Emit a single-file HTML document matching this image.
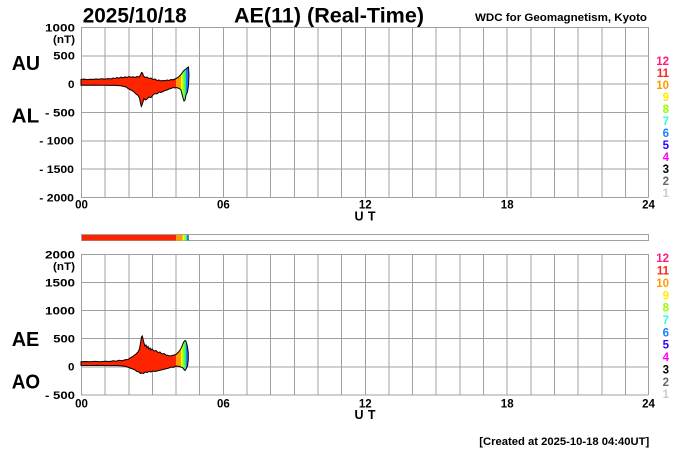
<!DOCTYPE html>
<html><head><meta charset="utf-8"><style>
html,body{margin:0;padding:0;background:#fff;}
svg{display:block;}
text{font-family:"Liberation Sans",Arial,sans-serif;font-weight:bold;}
</style></head><body>
<svg width="700" height="450" viewBox="0 0 700 450" xmlns="http://www.w3.org/2000/svg">
<rect width="700" height="450" fill="#fff"/>
<defs>
<clipPath id="ctop"><polygon id="ptop" points="81,79.5 84,79 87,79.6 90,79.2 93,79.4 96,79 99,79.3 102,78.8 105,79.1 108,78.6 111,78.9 113,78 115,78.5 117,77.5 119,78.2 121,77 123,77.8 125,76.8 127,77.5 129,76.5 131,77.2 133,76.8 135,77.5 137,76.5 139,77 140.5,75 141.5,72.5 142.5,73 143.5,76 145,77.5 147,77 149,78.5 151,78 153,79.5 155,79 157,80.5 159,80 161,81 163,80.5 165,80.8 167,80 169,80.5 171,79.5 173,79.8 175,79 176,78.5 178,77.5 180,75.5 181,74.5 182,73 183.5,71 184.5,70 186,69 187.5,67.5 188.5,67 189,75 188.5,85 187.5,92 186,95 185,100 184,101 183,98 182,94 181,90 180,89 178,88 176,87.5 175,88 173,87.5 171,88.5 169,89 167,90 165,90.5 163,91.5 161,92.5 159,92 157,94 155,93.5 153,95 151,97.5 149,97 147,99 145.5,100 144,98.5 143,102 142,105 141.3,106.5 140.5,103 139.5,98 138,95.5 136,94 134,92 132,90.5 130,89.5 128,88.5 126,87 124,86.5 122,86 120,85.8 117,85.5 114,85.3 110,85.4 105,85.2 100,85.3 95,85.1 90,85.3 85,85.1 81,85.2"/></clipPath>
<clipPath id="cbot"><polygon id="pbot" points="81,361.8 85,361.5 90,361.8 95,361.4 100,361.7 105,361.2 110,361.5 113,360.8 116,361.2 119,360.3 122,360.8 125,359.8 128,359.5 130,358 132,357 134,355.5 136,354 138,352 139.5,349 140.5,343 141.5,337 142.3,336 143,339 144,343 145,346 146,345 147,348 148,346.5 149,349 150,348 151,350 152,349 154,351 156,350.5 158,352.5 160,352 162,354 164,353.5 166,355 168,355.5 170,356 172,355.5 174,355 176,354.5 177,353.5 178.5,352 180,350 181,348.5 182,346 183,343.5 184,341.5 185,340.5 185.8,341 186.5,343 187.5,347 188.3,353 188.3,360 187.5,366 186,369 185,370.5 184,369.5 183,368 181,367 179,366.5 177,366 175,366.5 173,367.5 171,367 169,368 167,368.5 165,369 163,369.5 161,370 159,370.5 157,371 155,371.5 153,371 151,372 149,371.5 147,372.5 145,372 143.5,373.5 142,373 140.5,373.5 139,372 137,371.5 135,370 133,369 131,368.5 129,367.5 127,367 125,366.2 120,365.8 115,365.5 110,365.6 100,365.4 90,365.5 81,365.4"/></clipPath>
</defs>

<!-- grids -->
<g stroke="#a0a0a0" stroke-width="1" fill="none" shape-rendering="crispEdges">
<path d="M81,27.5H648.5M81,55.8H648.5M81,84.2H648.5M81,112.5H648.5M81,140.8H648.5M81,169.2H648.5M81,197.5H648.5"/>
<path d="M81,254.5H648.5M81,282.6H648.5M81,310.7H648.5M81,338.7H648.5M81,366.8H648.5M81,394.9H648.5"/>
<path d="M81.5,27V197.5M105.1,27V197.5M128.8,27V197.5M152.4,27V197.5M176.1,27V197.5M199.7,27V197.5M223.4,27V197.5M247,27V197.5M270.7,27V197.5M294.3,27V197.5M318,27V197.5M341.6,27V197.5M365.3,27V197.5M388.9,27V197.5M412.6,27V197.5M436.2,27V197.5M459.9,27V197.5M483.5,27V197.5M507.2,27V197.5M530.8,27V197.5M554.5,27V197.5M578.1,27V197.5M601.8,27V197.5M625.4,27V197.5M648.5,27V197.5"/>
<path d="M81.5,254V395M105.1,254V395M128.8,254V395M152.4,254V395M176.1,254V395M199.7,254V395M223.4,254V395M247,254V395M270.7,254V395M294.3,254V395M318,254V395M341.6,254V395M365.3,254V395M388.9,254V395M412.6,254V395M436.2,254V395M459.9,254V395M483.5,254V395M507.2,254V395M530.8,254V395M554.5,254V395M578.1,254V395M601.8,254V395M625.4,254V395M648.5,254V395"/>
</g>

<!-- top data -->
<g clip-path="url(#ctop)">
<rect x="80" y="60" width="96" height="50" fill="#ff2400"/>
<rect x="176" y="60" width="5" height="50" fill="#ff9a00"/>
<rect x="181" y="60" width="1.5" height="50" fill="#eeff00"/>
<rect x="182.5" y="60" width="2" height="50" fill="#88ff22"/>
<rect x="184.5" y="60" width="1.5" height="50" fill="#22ee88"/>
<rect x="186" y="60" width="4" height="50" fill="#2277ff"/>
</g>
<use href="#ptop" fill="none" stroke="#000" stroke-width="1"/>

<!-- bottom data -->
<g clip-path="url(#cbot)">
<rect x="80" y="330" width="96" height="50" fill="#ff2400"/>
<rect x="176" y="330" width="5" height="50" fill="#ff9a00"/>
<rect x="181" y="330" width="1.5" height="50" fill="#eeff00"/>
<rect x="182.5" y="330" width="2" height="50" fill="#88ff22"/>
<rect x="184.5" y="330" width="1.5" height="50" fill="#22ee88"/>
<rect x="186" y="330" width="4" height="50" fill="#2277ff"/>
</g>
<use href="#pbot" fill="none" stroke="#000" stroke-width="1"/>

<!-- color bar -->
<rect x="81.5" y="234.5" width="567" height="6" fill="#fff" stroke="#a0a0a0" stroke-width="1"/>
<rect x="82" y="235" width="94" height="5.5" fill="#ff2400"/>
<rect x="176" y="235" width="6.7" height="5.5" fill="#ff9a00"/>
<rect x="182.7" y="235" width="1.5" height="5.5" fill="#eeff00"/>
<rect x="184.2" y="235" width="1.6" height="5.5" fill="#88ff22"/>
<rect x="185.8" y="235" width="1" height="5.5" fill="#22ee88"/>
<rect x="186.8" y="235" width="1.2" height="5.5" fill="#2277ff"/>
<rect x="188" y="235" width="1" height="5.5" fill="#777"/>

<!-- titles -->
<text x="82.7" y="22.6" font-size="21" textLength="104" lengthAdjust="spacingAndGlyphs">2025/10/18</text>
<text x="234" y="22.6" font-size="21" textLength="190" lengthAdjust="spacingAndGlyphs">AE(11) (Real-Time)</text>
<text x="475" y="21" font-size="11" textLength="172" lengthAdjust="spacingAndGlyphs">WDC for Geomagnetism, Kyoto</text>

<!-- big labels -->
<text x="11.7" y="70" font-size="20" textLength="28.3" lengthAdjust="spacingAndGlyphs">AU</text>
<text x="11.7" y="122.3" font-size="20" textLength="27.5" lengthAdjust="spacingAndGlyphs">AL</text>
<text x="11.7" y="346" font-size="20" textLength="27.6" lengthAdjust="spacingAndGlyphs">AE</text>
<text x="11.7" y="388.3" font-size="20" textLength="28.3" lengthAdjust="spacingAndGlyphs">AO</text>

<!-- top y labels -->
<g font-size="11" lengthAdjust="spacingAndGlyphs">
<text x="45" y="31.4" textLength="30" lengthAdjust="spacingAndGlyphs">1000</text>
<text x="53" y="43.2" textLength="22" lengthAdjust="spacingAndGlyphs">(nT)</text>
<text x="53.3" y="59.7" textLength="21.7" lengthAdjust="spacingAndGlyphs">500</text>
<text x="68" y="88" textLength="6.5" lengthAdjust="spacingAndGlyphs">0</text>
<text x="45" y="116.4" textLength="30" lengthAdjust="spacingAndGlyphs">- 500</text>
<text x="39.3" y="144.7" textLength="34.7" lengthAdjust="spacingAndGlyphs">- 1000</text>
<text x="39.3" y="173.1" textLength="34.7" lengthAdjust="spacingAndGlyphs">- 1500</text>
<text x="39.3" y="201.4" textLength="34.7" lengthAdjust="spacingAndGlyphs">- 2000</text>
</g>

<!-- bottom y labels -->
<g font-size="11">
<text x="45" y="258.4" textLength="30" lengthAdjust="spacingAndGlyphs">2000</text>
<text x="53" y="270.2" textLength="22" lengthAdjust="spacingAndGlyphs">(nT)</text>
<text x="45" y="286.5" textLength="30" lengthAdjust="spacingAndGlyphs">1500</text>
<text x="45" y="314.6" textLength="30" lengthAdjust="spacingAndGlyphs">1000</text>
<text x="53.3" y="342.6" textLength="21.7" lengthAdjust="spacingAndGlyphs">500</text>
<text x="68" y="370.7" textLength="6.5" lengthAdjust="spacingAndGlyphs">0</text>
<text x="45" y="398.8" textLength="30" lengthAdjust="spacingAndGlyphs">- 500</text>
</g>

<!-- x labels -->
<g font-size="11.5" text-anchor="middle">
<text x="81.5" y="208.5">00</text>
<text x="223.4" y="208.5">06</text>
<text x="365.3" y="208.5">12</text>
<text x="507.2" y="208.5">18</text>
<text x="648.5" y="208.5">24</text>
<text x="81.5" y="407.5">00</text>
<text x="223.4" y="407.5">06</text>
<text x="365.3" y="407.5">12</text>
<text x="507.2" y="407.5">18</text>
<text x="648.5" y="407.5">24</text>
</g>
<text x="354.5" y="220.5" font-size="12.5" textLength="21" lengthAdjust="spacing">U T</text>
<text x="354.5" y="419" font-size="12.5" textLength="21" lengthAdjust="spacing">U T</text>

<!-- station count legends -->
<g font-size="11.5" text-anchor="end">
<text x="669" y="65.2" fill="#ff1a80">12</text>
<text x="669" y="77.2" fill="#ff2020">11</text>
<text x="669" y="89.2" fill="#ff9a00">10</text>
<text x="669" y="101.2" fill="#ffee00">9</text>
<text x="669" y="113.2" fill="#99ff00">8</text>
<text x="669" y="125.2" fill="#33ffcc">7</text>
<text x="669" y="137.2" fill="#1a80ff">6</text>
<text x="669" y="149.2" fill="#3300ff">5</text>
<text x="669" y="161.2" fill="#ff00ff">4</text>
<text x="669" y="173.2" fill="#000000">3</text>
<text x="669" y="185.2" fill="#666666">2</text>
<text x="669" y="197.2" fill="#cccccc">1</text>

<text x="669" y="262.2" fill="#ff1a80">12</text>
<text x="669" y="274.6" fill="#ff2020">11</text>
<text x="669" y="286.9" fill="#ff9a00">10</text>
<text x="669" y="299.3" fill="#ffee00">9</text>
<text x="669" y="311.6" fill="#99ff00">8</text>
<text x="669" y="324" fill="#33ffcc">7</text>
<text x="669" y="336.4" fill="#1a80ff">6</text>
<text x="669" y="348.7" fill="#3300ff">5</text>
<text x="669" y="361.1" fill="#ff00ff">4</text>
<text x="669" y="373.4" fill="#000000">3</text>
<text x="669" y="385.8" fill="#666666">2</text>
<text x="669" y="398.2" fill="#cccccc">1</text>
</g>

<text x="479.3" y="445" font-size="11" textLength="170" lengthAdjust="spacingAndGlyphs">[Created at 2025-10-18 04:40UT]</text>
</svg>
</body></html>
